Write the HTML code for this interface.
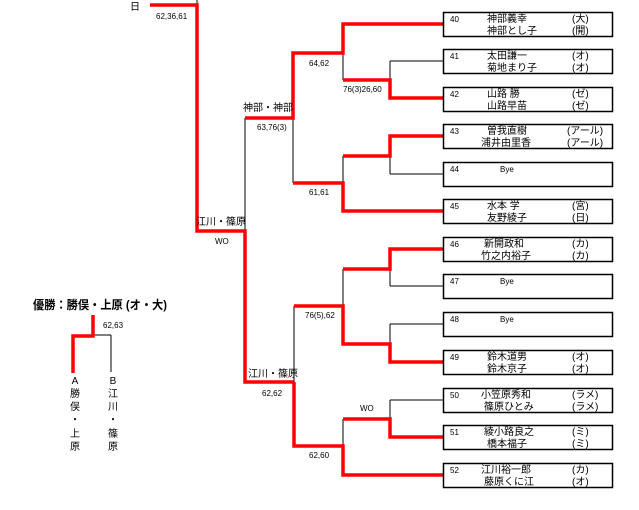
<!DOCTYPE html>
<html><head><meta charset="utf-8"><style>
html,body{margin:0;padding:0;background:#fff;}
svg{display:block;font-family:"Liberation Sans","Noto Sans CJK JP",sans-serif;}
.s{font-size:8px;}
.b{font-size:10px;}
</style></head><body>
<svg width="639" height="510" viewBox="0 0 639 510" xmlns="http://www.w3.org/2000/svg">
<g stroke="#000" stroke-width="1" fill="none">
<line x1="197" y1="0" x2="197" y2="5"/>
<line x1="343" y1="53" x2="343" y2="80"/>
<line x1="390" y1="61" x2="390" y2="80"/>
<line x1="390" y1="61" x2="443" y2="61"/>
<line x1="390" y1="156" x2="390" y2="174"/>
<line x1="390" y1="174" x2="443" y2="174"/>
<line x1="343" y1="156" x2="343" y2="183"/>
<line x1="293" y1="118" x2="293" y2="183"/>
<line x1="245" y1="118" x2="245" y2="231"/>
<line x1="294" y1="306" x2="294" y2="382"/>
<line x1="343" y1="269" x2="343" y2="306"/>
<line x1="390" y1="269" x2="390" y2="286"/>
<line x1="390" y1="286" x2="443" y2="286"/>
<line x1="390" y1="324" x2="390" y2="344"/>
<line x1="390" y1="324" x2="443" y2="324"/>
<line x1="343" y1="419" x2="343" y2="446"/>
<line x1="390" y1="400" x2="390" y2="419"/>
<line x1="390" y1="400" x2="443" y2="400"/>
<line x1="93" y1="335" x2="111" y2="335"/>
<line x1="111" y1="335" x2="111" y2="372"/>
</g>
<g stroke="#f00" stroke-width="3.5" fill="none" stroke-linejoin="miter">
<polyline points="150,5 197,5 197,231 245,231 245,382 294,382"/>
<polyline points="245,118 293,118 293,53 343,53 343,24 443,24"/>
<polyline points="343,80 390,80 390,98 443,98"/>
<polyline points="293,183 343,183 343,211 443,211"/>
<polyline points="343,156 390,156 390,136 443,136"/>
<polyline points="294,306 343,306 343,344 390,344 390,362 443,362"/>
<polyline points="343,269 390,269 390,249 443,249"/>
<polyline points="294,382 294,446 343,446 343,475 443,475"/>
<polyline points="343,419 390,419 390,437 443,437"/>
<polyline points="93,315 93,336 73,336 73,373"/>
</g>
<g stroke="#000" fill="none">
<g stroke-width="1.5">
<rect x="443.5" y="12.5" width="169" height="24"/>
<rect x="443.5" y="49.5" width="169" height="24"/>
<rect x="443.5" y="87.5" width="169" height="24"/>
<rect x="443.5" y="124.5" width="169" height="24"/>
<rect x="443.5" y="162.5" width="169" height="24"/>
<rect x="443.5" y="199.5" width="169" height="24"/>
<rect x="443.5" y="237.5" width="169" height="24"/>
<rect x="443.5" y="274.5" width="169" height="24"/>
<rect x="443.5" y="312.5" width="169" height="24"/>
<rect x="443.5" y="350.5" width="169" height="24"/>
<rect x="443.5" y="388.5" width="169" height="24"/>
<rect x="443.5" y="425.5" width="169" height="24"/>
<rect x="443.5" y="463.5" width="169" height="24"/>
</g>
</g>
<g class="b" fill="#000">
<text x="130" y="10">日</text>
<text x="450" y="22" class="s">40</text><text x="487" y="22">神部義幸</text><text x="572" y="22">(大)</text><text x="487" y="34">神部とし子</text><text x="572" y="34">(開)</text>
<text x="450" y="59" class="s">41</text><text x="487" y="59">太田謙一</text><text x="572" y="59">(オ)</text><text x="487" y="71">菊地まり子</text><text x="572" y="71">(オ)</text>
<text x="450" y="97" class="s">42</text><text x="487" y="97">山路 勝</text><text x="572" y="97">(ゼ)</text><text x="487" y="109">山路早苗</text><text x="572" y="109">(ゼ)</text>
<text x="450" y="134" class="s">43</text><text x="487" y="134">曽我直樹</text><text x="567" y="134">(アール)</text><text x="481" y="146">浦井由里香</text><text x="567" y="146">(アール)</text>
<text x="450" y="172" class="s">44</text><text x="500" y="172" class="s">Bye</text>
<text x="450" y="209" class="s">45</text><text x="487" y="209">水本 学</text><text x="572" y="209">(宮)</text><text x="487" y="221">友野綾子</text><text x="572" y="221">(日)</text>
<text x="450" y="247" class="s">46</text><text x="484" y="247">新開政和</text><text x="572" y="247">(カ)</text><text x="481" y="259">竹之内裕子</text><text x="572" y="259">(カ)</text>
<text x="450" y="284" class="s">47</text><text x="500" y="284" class="s">Bye</text>
<text x="450" y="322" class="s">48</text><text x="500" y="322" class="s">Bye</text>
<text x="450" y="360" class="s">49</text><text x="487" y="360">鈴木道男</text><text x="572" y="360">(オ)</text><text x="487" y="372">鈴木京子</text><text x="572" y="372">(オ)</text>
<text x="450" y="398" class="s">50</text><text x="481" y="398">小笠原秀和</text><text x="572" y="398">(ラメ)</text><text x="484" y="410">篠原ひとみ</text><text x="572" y="410">(ラメ)</text>
<text x="450" y="435" class="s">51</text><text x="484" y="435">綾小路良之</text><text x="572" y="435">(ミ)</text><text x="487" y="447">橋本福子</text><text x="572" y="447">(ミ)</text>
<text x="450" y="473" class="s">52</text><text x="481" y="473">江川裕一郎</text><text x="572" y="473">(カ)</text><text x="484" y="485">藤原くに江</text><text x="572" y="485">(オ)</text>
<text x="243" y="111">神部・神部</text>
<text x="196" y="225">江川・篠原</text>
<text x="248" y="377">江川・篠原</text>
</g>
<g class="s" fill="#000">
<text x="156" y="19">62,36,61</text>
<text x="309" y="66">64,62</text>
<text x="343" y="92">76(3)26,60</text>
<text x="257" y="130">63,76(3)</text>
<text x="309" y="195">61,61</text>
<text x="215" y="244">WO</text>
<text x="305" y="318">76(5),62</text>
<text x="262" y="396">62,62</text>
<text x="360" y="411">WO</text>
<text x="309" y="458">62,60</text>
<text x="103" y="328">62,63</text>
</g>
<text x="33" y="309" font-size="12" font-weight="bold" fill="#000" textLength="134" lengthAdjust="spacingAndGlyphs" style="font-family:'Liberation Sans','Noto Sans CJK JP',sans-serif">優勝：勝俣・上原 (オ・大)</text>
<g class="b" fill="#000" text-anchor="middle">
<text x="75" y="384">A</text><text x="75" y="397">勝</text><text x="75" y="410">俣</text><text x="75" y="423">・</text><text x="75" y="437">上</text><text x="75" y="450">原</text>
<text x="113" y="384">B</text><text x="113" y="397">江</text><text x="113" y="410">川</text><text x="113" y="423">・</text><text x="113" y="437">篠</text><text x="113" y="450">原</text>
</g>
</svg>
</body></html>
